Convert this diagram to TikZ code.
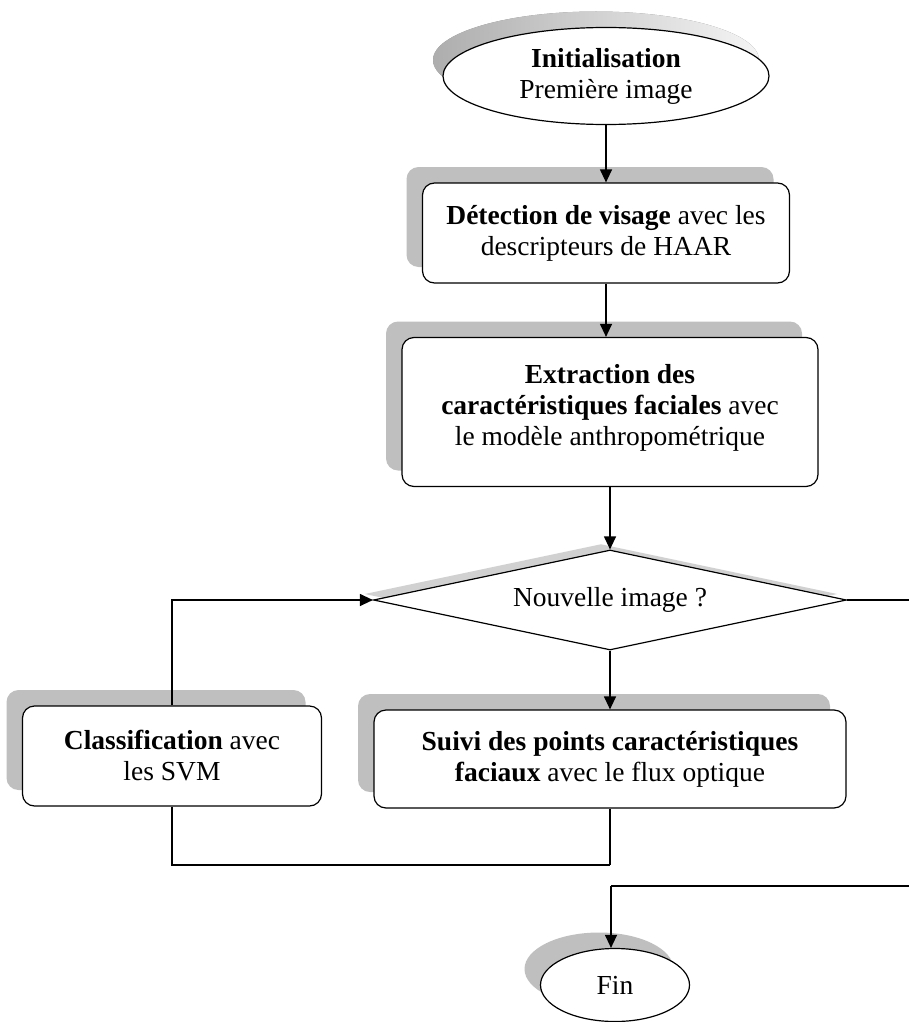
\documentclass[tikz,border=0pt]{standalone}
\usepackage{fontspec}
\setmainfont{Liberation Serif}
\usetikzlibrary{shapes.geometric,arrows.meta,shadows}
\begin{document}
\begin{tikzpicture}[x=1pt,y=-1pt,
  every node/.style={font=\fontsize{27.5}{31}\selectfont, align=center, inner sep=0pt},
  ln/.style={line width=1.2pt},
  arr/.style={ln, -{Triangle[length=13pt,width=12pt]}},
  box/.style={draw, ln, rounded corners=12pt, fill=white,
    drop shadow={shadow xshift=-16pt, shadow yshift=16pt, fill=black!25, opacity=1}},
  startshape/.style={draw, ln, ellipse, fill=white},
  decision/.style={draw, ln, diamond, aspect=4.7, fill=white,
    drop shadow={shadow xshift=-9pt, shadow yshift=6pt, fill=black!18, opacity=1}}
]
\useasboundingbox (0,0) rectangle (909,1022);

\node[startshape, minimum width=326pt, minimum height=97pt,
  drop shadow={shadow xshift=-10pt, shadow yshift=16pt, left color=black!32, right color=black!4, opacity=1}]
  (init) at (606,76) {\textbf{Initialisation}\\Première image};

\node[box, minimum width=367pt, minimum height=100pt] (detect) at (606,233)
  {\textbf{Détection de visage} avec les\\descripteurs de HAAR};

\node[box, minimum width=416pt, minimum height=149pt] (extract) at (610,412)
  {\textbf{Extraction des}\\\textbf{caractéristiques faciales} avec\\le modèle anthropométrique\\[-16pt]};

\node[decision, minimum width=473pt, minimum height=100pt] (diam) at (610,600)
  {Nouvelle image ?};

\node[box, minimum width=472pt, minimum height=98pt] (suivi) at (610,759)
  {\textbf{Suivi des points caractéristiques}\\\textbf{faciaux} avec le flux optique};

\node[box, minimum width=299pt, minimum height=100pt] (classif) at (172,756)
  {\textbf{Classification} avec\\les SVM};

\node[startshape, minimum width=149pt, minimum height=73pt,
  drop shadow={shadow xshift=-16pt, shadow yshift=16pt, fill=black!25, opacity=1}]
  (fin) at (615,985) {Fin};

\coordinate (j) at (610,865);
\coordinate (r1) at (913,600);
\coordinate (r2) at (913,886);
\coordinate (f) at (611,886);

\draw[arr] (init.south) -- (init.south |- detect.north);
\draw[arr] (detect.south) -- (detect.south |- extract.north);
\draw[arr] (extract.south) -- (diam.north);
\draw[arr] (diam.south) -- (suivi.north);
\draw[arr] (classif.north) |- (diam.west);
\draw[ln] (classif.south) |- (j);
\draw[ln] (suivi.south) -- (j);
\draw[ln] (diam.east) -- (r1) -- (r2) -- (f);
\draw[arr] (f) -- (f |- fin.north);
\end{tikzpicture}
\end{document}
